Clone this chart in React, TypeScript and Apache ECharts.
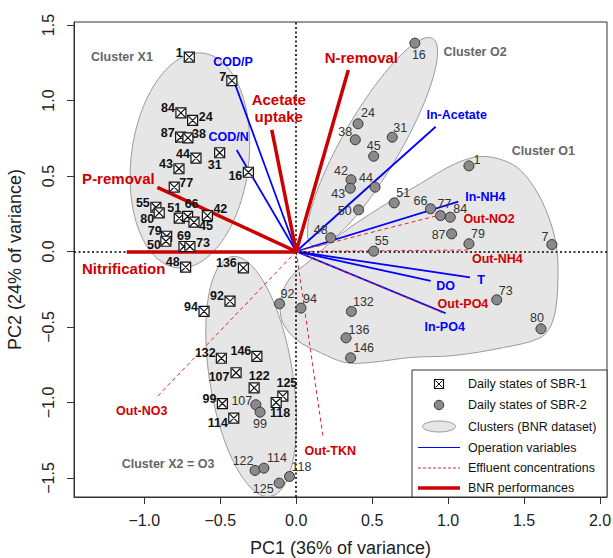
import React, { useEffect, useRef } from "react";
import * as echarts from "echarts";

const FONT = '"Liberation Sans", Arial, Helvetica, sans-serif';

// ---------- data (PC1, PC2) ----------
const sbr1Points: [string, number, number][] = [
  ["1", -0.704, 1.287], ["7", -0.424, 1.132], ["84", -0.759, 0.918], ["24", -0.682, 0.868],
  ["87", -0.761, 0.757], ["38", -0.713, 0.753], ["44", -0.66, 0.618], ["31", -0.504, 0.654],
  ["43", -0.772, 0.548], ["16", -0.315, 0.525], ["77", -0.803, 0.426], ["55", -0.924, 0.293],
  ["80", -0.902, 0.256], ["51", -0.77, 0.221], ["66", -0.715, 0.232], ["45", -0.673, 0.194],
  ["42", -0.585, 0.238], ["79", -0.853, 0.101], ["50", -0.858, 0.068], ["69", -0.739, 0.033],
  ["73", -0.7, 0.033], ["48", -0.728, -0.104], ["136", -0.348, -0.108], ["92", -0.436, -0.329],
  ["94", -0.607, -0.397], ["132", -0.493, -0.707], ["146", -0.259, -0.695], ["107", -0.396, -0.803],
  ["122", -0.277, -0.903], ["125", -0.088, -0.958], ["118", -0.132, -1.0], ["99", -0.486, -1.007],
  ["114", -0.411, -1.104],
];

const sbr2Points: [string, number, number][] = [
  ["16", 0.781, 1.38], ["24", 0.407, 0.846], ["38", 0.389, 0.74], ["31", 0.632, 0.757],
  ["45", 0.51, 0.631], ["1", 1.137, 0.567], ["42", 0.361, 0.475], ["44", 0.519, 0.426],
  ["43", 0.356, 0.419], ["50", 0.411, 0.276], ["51", 0.645, 0.322], ["66", 0.884, 0.283],
  ["77", 0.95, 0.238], ["84", 1.014, 0.227], ["48", 0.227, 0.091], ["87", 1.023, 0.117],
  ["79", 1.137, 0.051], ["7", 1.683, 0.046], ["55", 0.51, 0.002], ["73", 1.32, -0.32],
  ["80", 1.611, -0.512], ["92", -0.11, -0.346], ["94", 0.031, -0.375], ["132", 0.363, -0.397],
  ["136", 0.328, -0.572], ["146", 0.358, -0.704], ["107", -0.266, -1.015], ["99", -0.238, -1.064],
  ["122", -0.271, -1.45], ["114", -0.213, -1.435], ["125", -0.112, -1.534], ["118", -0.044, -1.49],
];

const operationVars: [string, number, number][] = [
  ["COD/P", -0.403, 1.109], ["COD/N", -0.392, 0.672], ["In-Acetate", 0.918, 0.826],
  ["In-NH4", 1.067, 0.33], ["T", 1.144, -0.171], ["DO", 0.885, -0.195], ["In-PO4", 0.984, -0.409],
];
const effluentVars: [string, number, number][] = [
  ["Out-NO2", 0.947, 0.242], ["Out-NH4", 1.133, 0.01], ["Out-PO4", 0.966, -0.407],
  ["Out-TKN", 0.178, -1.237], ["Out-NO3", -0.925, -0.972],
];
const bnrVars: [string, number, number][] = [
  ["N-removal", 0.343, 1.202], ["Acetate\nuptake", -0.161, 0.805],
  ["P-removal", -0.914, 0.425], ["Nitrification", -1.116, 0.0],
];

// clusters: [name, centerX, centerY, semiMajor, semiMinor, angleDeg]
const clusterEllipses: [string, number, number, number, number, number][] = [
  ["X1", -0.7, 0.603, 0.716, 0.387, 83.1],
  ["O2", 0.502, 0.725, 0.792, 0.19, 60.0],
  ["X2", -0.297, -0.828, 0.804, 0.274, 99.0],
];
const clusterO1Outline: [number, number][] = [
  [1.215, 0.629], [1.366, 0.603], [1.479, 0.536], [1.591, 0.384], [1.677, 0.185], [1.716, 0.007],
  [1.723, -0.159], [1.71, -0.371], [1.67, -0.503], [1.597, -0.576], [1.366, -0.636], [1.036, -0.689],
  [0.752, -0.702], [0.488, -0.735], [0.323, -0.735], [0.158, -0.669], [0.007, -0.589], [-0.086, -0.477],
  [-0.106, -0.371], [-0.086, -0.258], [-0.026, -0.159], [0.092, -0.06], [0.29, 0.113], [0.554, 0.291],
  [0.818, 0.45], [1.05, 0.583],
];
const clusterLabels: [string, number, number][] = [
  ["Cluster X1", -1.147, 1.286], ["Cluster O2", 1.177, 1.323],
  ["Cluster O1", 1.627, 0.668], ["Cluster X2 = O3", -0.844, -1.409],
];

const xTicks = [-1, -0.5, 0, 0.5, 1, 1.5, 2];
const yTicks = [-1.5, -1, -0.5, 0, 0.5, 1, 1.5];

// ---------- label placement (pixel offsets) ----------
const sbr1LabelOffset: Record<string, [number, number]> = {
  "1": [-10, -4], "7": [-9, -4], "84": [-13, -5], "24": [13, -3], "87": [-13, -4], "38": [11, -4],
  "44": [-13, -4], "31": [-5, 12], "43": [-13, -5], "16": [-13, 4], "77": [12, -4], "55": [-13, -4],
  "80": [-12, 6], "51": [-5, -10], "66": [4, -12], "45": [12, 4], "42": [13, -7], "79": [-12, -5],
  "50": [-12, 4], "69": [0, -11], "73": [13, -4], "48": [-13, -5], "136": [-17, -5], "92": [-13, -5],
  "94": [-13, -4], "132": [-16, -5], "146": [-16, -5], "107": [-17, 4], "122": [5, -12],
  "125": [4, -13], "118": [4, 11], "99": [-13, -5], "114": [-16, 5],
};
const sbr2LabelOffset: Record<string, [number, number]> = {
  "16": [4, 12], "24": [10, -11], "38": [-10, -8], "31": [8, -9], "45": [0, -10], "1": [8, -6],
  "42": [-10, -9], "44": [-9, -9], "43": [-12, 6], "50": [-14, 1], "51": [9, -10], "66": [-10, -8],
  "77": [4, -12], "84": [10, -8], "48": [-10, -8], "87": [-13, 1], "79": [9, -10], "7": [-7, -8],
  "55": [8, -10], "73": [9, -9], "80": [-4, -11], "92": [8, -10], "94": [9, -9], "132": [12, -9],
  "136": [13, -8], "146": [13, -10], "107": [-14, -4], "99": [0, 12], "122": [-12, -9],
  "114": [13, -10], "125": [-16, 6], "118": [12, -9],
};
const vectorLabelOffset: Record<string, [number, number]> = {
  "COD/P": [-2, -22], "COD/N": [-8, -13], "In-Acetate": [21, -12], "In-NH4": [27, -5],
  T: [11, 3], DO: [15, 5], "In-PO4": [-1, 14],
  "Out-NO2": [49, 4], "Out-NH4": [29, 9], "Out-PO4": [20, -9], "Out-TKN": [7, 13], "Out-NO3": [-14, 13],
  "N-removal": [13, -13], "Acetate\nuptake": [7, -22], "P-removal": [-39, -9], Nitrification: [-3, 17],
};

const BLUE = "#0000ff";
const RED = "#cc0000";
const RED_TEXT = "#d00000";
const RED_DASH = "#e4262f";
const FILL = "#e6e6e6";
const EDGE = "#9a9a9a";

const fmt = (v: number) => (v < 0 ? "\u2212" + Math.abs(v).toFixed(1) : v.toFixed(1));

const plainLabel = {
  show: true,
  position: "inside",
  formatter: (p: any) => p.name,
  fontFamily: FONT,
  align: "center",
  verticalAlign: "middle",
  textBorderWidth: 0,
  textBorderColor: "transparent",
  textShadowBlur: 0,
  opacity: 1,
};

function textSeries(
  items: { name: string; value: number[]; offset?: [number, number] }[],
  color: string,
  size: number,
  weight: string
) {
  return {
    type: "scatter",
    symbol: "circle",
    symbolSize: 1,
    silent: true,
    z: 7,
    itemStyle: { color: "rgba(255,255,255,0)", borderWidth: 0 },
    data: items.map((it) => ({
      name: it.name,
      value: it.value,
      label: { offset: it.offset || [0, 0], color },
    })),
    label: {
      ...plainLabel,
      color,
      fontSize: size,
      fontWeight: weight,
      lineHeight: size + 2,
    },
  };
}

function vectorLabelSeries(list: [string, number, number][], color: string, size: number) {
  return textSeries(
    list.map(([n, x, y]) => ({ name: n, value: [x, y], offset: vectorLabelOffset[n] })),
    color,
    size,
    "bold"
  );
}

function pointSeries(list: [string, number, number][], offsets: Record<string, [number, number]>, isSbr1: boolean) {
  const color = isSbr1 ? "#111111" : "#333333";
  return {
    type: "scatter",
    z: 6,
    symbol: isSbr1 ? "path://M0,0L10,0L10,10L0,10Z M1,1L9,9 M9,1L1,9" : "circle",
    symbolSize: 10,
    itemStyle: isSbr1
      ? { color: "#ffffff", borderColor: "#111", borderWidth: 1.2, opacity: 1 }
      : { color: "#8a8a8a", borderColor: "#333", borderWidth: 1, opacity: 1 },
    data: list.map(([n, x, y]) => ({
      name: n,
      value: [x, y],
      label: { offset: offsets[n] || [0, 0], color },
    })),
    label: {
      ...plainLabel,
      color,
      fontSize: 12.5,
      fontWeight: isSbr1 ? "bold" : "normal",
    },
  };
}

export default function App() {
  const ref = useRef<HTMLDivElement>(null);
  useEffect(() => {
    document.body.style.margin = "0";
    if (!ref.current) return;
    const chart = echarts.init(ref.current, undefined, { renderer: "svg" });

    const clusterData: number[][] = clusterEllipses.map((c) => [c[1], c[2]]);
    clusterData.push(clusterO1Outline[0]);

    const legendX = 412;
    const legendY = 370;
    const legendItems = [
      "Daily states of SBR-1",
      "Daily states of SBR-2",
      "Clusters (BNR dataset)",
      "Operation variables",
      "Effluent concentrations",
      "BNR performances",
    ];
    const rowY = [384, 405, 426.5, 447.5, 468, 488];
    const symX = 439;

    const option: any = {
      animation: false,
      backgroundColor: "#ffffff",
      textStyle: { fontFamily: FONT },
      grid: {
        left: 74,
        top: 22,
        right: 6,
        bottom: 61,
        containLabel: false,
        outerBoundsMode: "none",
        show: true,
        borderColor: "#333",
        borderWidth: 1,
        backgroundColor: "transparent",
      },
      xAxis: {
        type: "value",
        min: -1.463,
        max: 2.046,
        axisLine: { show: true, onZero: false, lineStyle: { color: "#333", width: 1 } },
        axisTick: { show: true, length: 7, customValues: xTicks, lineStyle: { color: "#333", width: 1 } },
        axisLabel: {
          customValues: xTicks,
          formatter: fmt,
          color: "#222",
          fontSize: 16,
          fontFamily: FONT,
          margin: 15,
        },
        splitLine: { show: false },
        name: "PC1 (36% of variance)",
        nameLocation: "middle",
        nameGap: 42,
        nameTextStyle: { fontSize: 18, color: "#222", fontFamily: FONT },
      },
      yAxis: {
        type: "value",
        min: -1.626,
        max: 1.52,
        axisLine: { show: true, onZero: false, lineStyle: { color: "#333", width: 1 } },
        axisTick: { show: true, length: 7, customValues: yTicks, lineStyle: { color: "#333", width: 1 } },
        axisLabel: {
          customValues: yTicks,
          formatter: fmt,
          color: "#222",
          fontSize: 16,
          fontFamily: FONT,
          rotate: 90,
          margin: 18,
        },
        splitLine: { show: false },
        name: "PC2 (24% of variance)",
        nameLocation: "middle",
        nameGap: 50,
        nameRotate: 90,
        nameTextStyle: { fontSize: 18, color: "#222", fontFamily: FONT },
      },
      series: [
        {
          type: "custom",
          z: 1,
          silent: true,
          data: clusterData,
          renderItem: (params: any, api: any) => {
            const i = params.dataIndex;
            let pts: number[][] = [];
            let smooth = 0;
            if (i < clusterEllipses.length) {
              const [, cx, cy, a, b, ang] = clusterEllipses[i];
              const th = (ang * Math.PI) / 180;
              for (let k = 0; k < 120; k++) {
                const t = (k / 120) * Math.PI * 2;
                const x = cx + a * Math.cos(t) * Math.cos(th) - b * Math.sin(t) * Math.sin(th);
                const y = cy + a * Math.cos(t) * Math.sin(th) + b * Math.sin(t) * Math.cos(th);
                pts.push(api.coord([x, y]));
              }
            } else {
              pts = clusterO1Outline.map((p) => api.coord(p));
              smooth = 0.35;
            }
            return {
              type: "polygon",
              shape: { points: pts, smooth },
              style: { fill: FILL, stroke: EDGE, lineWidth: 1 },
            };
          },
        },
        {
          type: "line",
          z: 2,
          data: [],
          silent: true,
          markLine: {
            silent: true,
            symbol: "none",
            label: { show: false },
            lineStyle: { color: "#000", type: [2, 2.5], width: 1.6 },
            data: [{ xAxis: 0 }, { yAxis: 0 }],
          },
        },
        {
          type: "lines",
          coordinateSystem: "cartesian2d",
          z: 3,
          silent: true,
          lineStyle: { color: BLUE, width: 1.8, type: "solid", opacity: 1 },
          data: operationVars.map(([, x, y]) => ({ coords: [[0, 0], [x, y]] })),
        },
        {
          type: "lines",
          coordinateSystem: "cartesian2d",
          z: 4,
          silent: true,
          lineStyle: { color: RED_DASH, width: 1, type: [4, 3], opacity: 1 },
          data: effluentVars.map(([, x, y]) => ({ coords: [[0, 0], [x, y]] })),
        },
        {
          type: "lines",
          coordinateSystem: "cartesian2d",
          z: 5,
          silent: true,
          lineStyle: { color: RED, width: 3.5, type: "solid", opacity: 1 },
          data: bnrVars.map(([, x, y]) => ({ coords: [[0, 0], [x, y]] })),
        },
        pointSeries(sbr1Points, sbr1LabelOffset, true),
        pointSeries(sbr2Points, sbr2LabelOffset, false),
        vectorLabelSeries(operationVars, "#0000ff", 12.5),
        vectorLabelSeries(effluentVars, RED_TEXT, 12.5),
        vectorLabelSeries(bnrVars, RED_TEXT, 15),
        textSeries(
          clusterLabels.map(([n, x, y]) => ({ name: n, value: [x, y] })),
          "#666666",
          12.5,
          "bold"
        ),
      ],
      graphic: [
        {
          type: "rect",
          z: 100,
          shape: { x: legendX, y: legendY, width: 607 - legendX, height: 497 - legendY },
          style: { fill: "#fff", stroke: "#333", lineWidth: 1 },
        },
        {
          type: "rect",
          z: 101,
          shape: { x: symX - 4.5, y: rowY[0] - 4.5, width: 9, height: 9 },
          style: { fill: "#fff", stroke: "#111", lineWidth: 1.1 },
        },
        {
          type: "line",
          z: 101,
          shape: { x1: symX - 3.5, y1: rowY[0] - 3.5, x2: symX + 3.5, y2: rowY[0] + 3.5 },
          style: { stroke: "#111", lineWidth: 1 },
        },
        {
          type: "line",
          z: 101,
          shape: { x1: symX + 3.5, y1: rowY[0] - 3.5, x2: symX - 3.5, y2: rowY[0] + 3.5 },
          style: { stroke: "#111", lineWidth: 1 },
        },
        {
          type: "circle",
          z: 101,
          shape: { cx: symX, cy: rowY[1], r: 4.7 },
          style: { fill: "#8a8a8a", stroke: "#333", lineWidth: 1 },
        },
        {
          type: "ellipse",
          z: 101,
          shape: { cx: symX, cy: rowY[2], rx: 16.5, ry: 5.5 },
          style: { fill: FILL, stroke: EDGE, lineWidth: 1 },
        },
        {
          type: "line",
          z: 101,
          shape: { x1: 418, y1: rowY[3], x2: 460, y2: rowY[3] },
          style: { stroke: BLUE, lineWidth: 1 },
        },
        {
          type: "line",
          z: 101,
          shape: { x1: 418, y1: rowY[4], x2: 460, y2: rowY[4] },
          style: { stroke: RED_DASH, lineWidth: 1, lineDash: [3, 2] },
        },
        {
          type: "line",
          z: 101,
          shape: { x1: 418, y1: rowY[5], x2: 460, y2: rowY[5] },
          style: { stroke: RED, lineWidth: 3.5 },
        },
        ...legendItems.map((t, i) => ({
          type: "text",
          z: 101,
          x: 468,
          y: rowY[i],
          style: {
            text: t,
            fill: "#111",
            font: `12.5px ${FONT}`,
            textAlign: "left",
            textVerticalAlign: "middle",
          },
        })),
      ],
    };
    chart.setOption(option);
    return () => chart.dispose();
  }, []);
  return <div ref={ref} style={{ width: 613, height: 558 }} />;
}
